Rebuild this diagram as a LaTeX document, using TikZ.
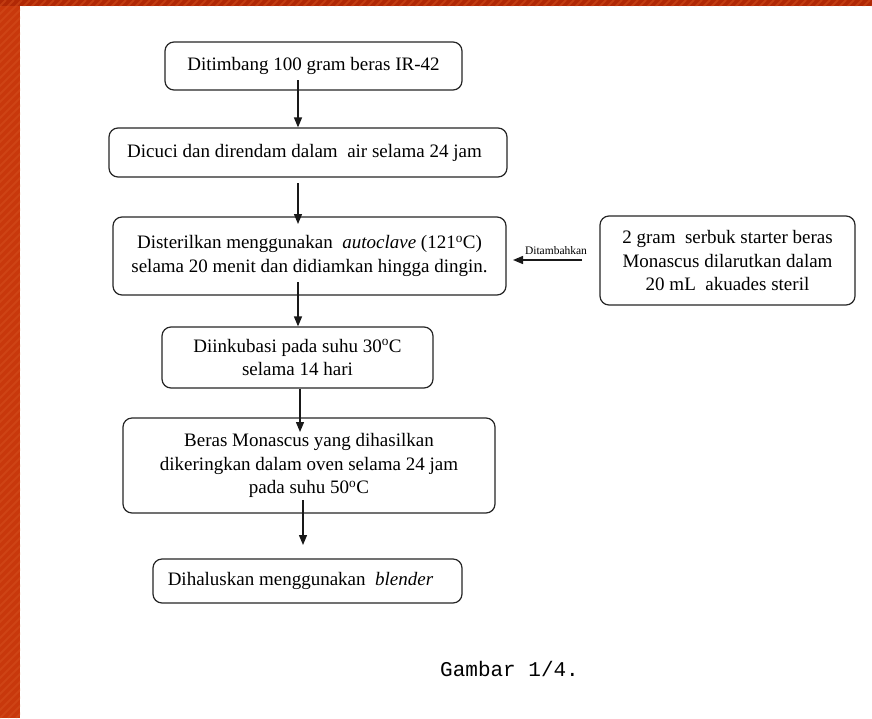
\documentclass[tikz,border=0pt]{standalone}
\usepackage{fontspec}
\setmainfont{Liberation Serif}
\setmonofont{Liberation Mono}
\usetikzlibrary{arrows.meta}
\definecolor{bordor}{HTML}{C8380C}
\definecolor{bordtop}{HTML}{B02805}
\definecolor{stripe}{HTML}{D5501E}
\begin{document}
\begin{tikzpicture}[x=1pt,y=-1pt,
  box/.style={draw=black!85,line width=1.2pt,rounded corners=9pt,align=center,
    inner sep=0pt,font=\fontsize{19}{23.5}\selectfont},
  arr/.style={draw=black!90,line width=1.3pt,-{Triangle[length=10pt,width=8pt]}}]
\useasboundingbox (0,0) rectangle (872,718);
\fill[white] (0,0) rectangle (872,718);
% border strips
\fill[bordor] (0,0) rectangle (20,718);
\fill[bordtop] (0,0) rectangle (872,6);
\begin{scope}
\clip (0,0) rectangle (20,718) (0,0) rectangle (872,6);
\foreach \i in {-720,-712,...,880}
  \draw[stripe,line width=2pt,opacity=0.5] (\i,718) -- ++(718,-718);
\end{scope}
% boxes
\node[box,minimum width=297pt,minimum height=48pt] (b1) at (313.5,66) {Ditimbang 100 gram beras IR-42};
\node[box,minimum width=398pt,minimum height=49pt] (b2) at (308,152.5) {Dicuci dan direndam dalam\ \ air selama 24 jam\hspace*{7pt}};
\node[box,minimum width=393pt,minimum height=78pt] (b3) at (309.5,256) {Disterilkan menggunakan \ \textit{autoclave} (121\textsuperscript{o}C)\\selama 20 menit dan didiamkan hingga dingin.};
\node[box,minimum width=271pt,minimum height=61pt] (b4) at (297.5,357.5) {Diinkubasi pada suhu 30\textsuperscript{o}C\\selama 14 hari};
\node[box,minimum width=372pt,minimum height=95pt] (b5) at (309,465.5) {Beras Monascus yang dihasilkan\\dikeringkan dalam oven selama 24 jam\\pada suhu 50\textsuperscript{o}C};
\node[box,minimum width=309pt,minimum height=44pt] (b6) at (307.5,581) {Dihaluskan menggunakan \ \textit{blender}\hspace*{14pt}};
\node[box,minimum width=255pt,minimum height=89pt] (r) at (727.5,260.5) {2 gram\ \ serbuk starter beras\\Monascus dilarutkan dalam\\20 mL\ \ akuades steril};
% arrow end points
\coordinate (a1s) at (298,80);
\coordinate (a2s) at (298,183);
\coordinate (a2e) at (298,224);
\coordinate (a3s) at (298,282);
\coordinate (a4x) at (300,0);
\coordinate (a4e) at (300,432);
\coordinate (a5s) at (303,500);
\coordinate (a5e) at (303,545);
\coordinate (a6s) at (582,260);
\coordinate (a6e) at (513,260);
% connectors
\draw[arr] (a1s) -- (b2.north -| a1s);
\draw[arr] (a2s) -- (a2e);
\draw[arr] (a3s) -- (b4.north -| a3s);
\draw[arr] (b4.south -| a4x) -- (a4e);
\draw[arr] (a5s) -- (a5e);
\draw[arr] (a6s) -- (a6e);
\node[anchor=base,inner sep=0pt,font=\fontsize{11.5}{12}\selectfont] (lab) at (556,254) {Ditambahkan};
\node[anchor=base west,inner sep=0pt,font=\ttfamily\fontsize{21}{24}\selectfont] (cap) at (440,676) {Gambar 1/4.};
\end{tikzpicture}
\end{document}
